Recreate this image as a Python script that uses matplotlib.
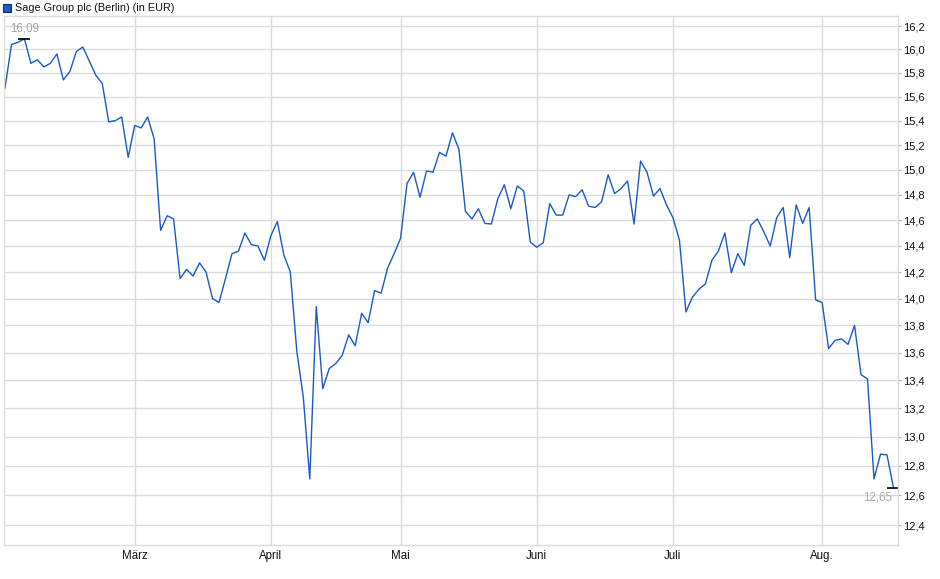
import numpy as np
import pandas as pd
import matplotlib
matplotlib.use("Agg")
from matplotlib import pyplot as plt
from matplotlib.patches import Rectangle
from matplotlib.ticker import FixedLocator, NullLocator

plt.rcParams['font.family'] = ['Liberation Sans', 'DejaVu Sans']

# Schlusskurse Sage Group plc (Berlin), in EUR, Handelstage ab 03.02.2025
prices = [
    15.67, 16.04, 16.06, 16.09, 15.88, 15.91, 15.85, 15.88, 15.96, 15.74,
    15.81, 15.98, 16.02, 15.90, 15.78, 15.71, 15.39, 15.40, 15.43, 15.10,
    15.36, 15.34, 15.43, 15.25, 14.52, 14.635, 14.61, 14.15, 14.22, 14.17,
    14.27, 14.20, 14.00, 13.97, 14.15, 14.34, 14.36, 14.50, 14.41, 14.40,
    14.29, 14.48, 14.59, 14.33, 14.20, 13.61, 13.28, 12.71, 13.94, 13.34,
    13.485, 13.52, 13.58, 13.73, 13.65, 13.89, 13.82, 14.06, 14.04, 14.23,
    14.34, 14.46, 14.89, 14.98, 14.78, 14.99, 14.98, 15.14, 15.11, 15.30,
    15.165, 14.67, 14.61, 14.69, 14.575, 14.57, 14.77, 14.88, 14.69, 14.87,
    14.83, 14.43, 14.39, 14.425, 14.73, 14.64, 14.64, 14.80, 14.785, 14.84,
    14.71, 14.70, 14.745, 14.96, 14.81, 14.85, 14.91, 14.57, 15.07, 14.98,
    14.79, 14.85, 14.72, 14.62, 14.445, 13.90, 14.01, 14.07, 14.11, 14.29,
    14.36, 14.50, 14.195, 14.34, 14.25, 14.56, 14.61, 14.51, 14.40, 14.62,
    14.70, 14.31, 14.72, 14.575, 14.70, 13.99, 13.97, 13.63, 13.69, 13.70,
    13.66, 13.80, 13.44, 13.41, 12.71, 12.88, 12.875, 12.65,
]
holidays = ['2025-04-18', '2025-04-21', '2025-05-01']
month_names = ['März', 'April', 'Mai', 'Juni', 'Juli', 'Aug.']
y_ticks = [12.4, 12.6, 12.8, 13.0, 13.2, 13.4, 13.6, 13.8, 14.0, 14.2,
           14.4, 14.6, 14.8, 15.0, 15.2, 15.4, 15.6, 15.8, 16.0, 16.2]

dates = pd.bdate_range('2025-02-03', '2025-08-18')
dates = dates[~dates.isin(pd.to_datetime(holidays))]
x = np.arange(len(prices))
months = dates.to_period('M')
month_pos = [i for i in range(1, len(dates)) if months[i] != months[i - 1]]

fig = plt.figure(figsize=(9.4, 5.79), dpi=100)
ax = fig.add_axes([4 / 940, 1 - 545 / 579, 894 / 940, 529 / 579])

grid_c = '#dcdcdc'
ax.plot(x, prices, color='#1a5ac8', lw=1.0)
ax.set_yscale('log')
ax.set_ylim(12.268, 16.288)
ax.set_xlim(-0.15, 137.7)

ax.yaxis.set_major_locator(FixedLocator(y_ticks))
ax.yaxis.set_minor_locator(NullLocator())
ax.set_yticklabels([f"{t:.1f}".replace('.', ',') for t in y_ticks])
ax.yaxis.tick_right()
ax.set_xticks(month_pos)
ax.set_xticklabels(month_names)
ax.xaxis.set_minor_locator(NullLocator())
ax.tick_params(axis='y', length=2, width=0.8, color='#b0b0b0', pad=2,
               labelsize=8, labelcolor='#111111')
ax.tick_params(axis='x', length=0, pad=3.5, labelsize=8.3, labelcolor='#111111')
ax.grid(True, color=grid_c, lw=1.0)
ax.set_axisbelow(True)
for s in ax.spines.values():
    s.set_color(grid_c)
    s.set_linewidth(1.0)

# Hoch- und Schlusskurs markieren
i_max = int(np.argmax(prices))
i_last = len(prices) - 1
ax.plot([i_max], [prices[i_max]], marker='_', ms=8.5, mew=1.2, color='black')
ax.plot([i_last], [prices[i_last]], marker='_', ms=9, mew=1.2, color='black')
ax.annotate(f"{prices[i_max]:.2f}".replace('.', ','), (i_max, prices[i_max]),
            xytext=(0, 3), textcoords='offset points', ha='center', va='bottom',
            fontsize=8.3, color='#aaa29a')
ax.annotate(f"{prices[i_last]:.2f}".replace('.', ','), (i_last, prices[i_last]),
            xytext=(-1, -3), textcoords='offset points', ha='right', va='top',
            fontsize=8.3, color='#a4acb8')

# Legende oben links
fig.patches.append(Rectangle((3 / 940, 1 - 12 / 579), 8 / 940, 8 / 579,
                             transform=fig.transFigure, facecolor='#1f5bc4',
                             edgecolor='#0d2f70', lw=0.8))
fig.text(15 / 940, 1 - 8 / 579, 'Sage Group plc (Berlin) (in EUR)',
         fontsize=7.8, va='center', ha='left', color='#111111')

fig.savefig('out.png', dpi=100)
